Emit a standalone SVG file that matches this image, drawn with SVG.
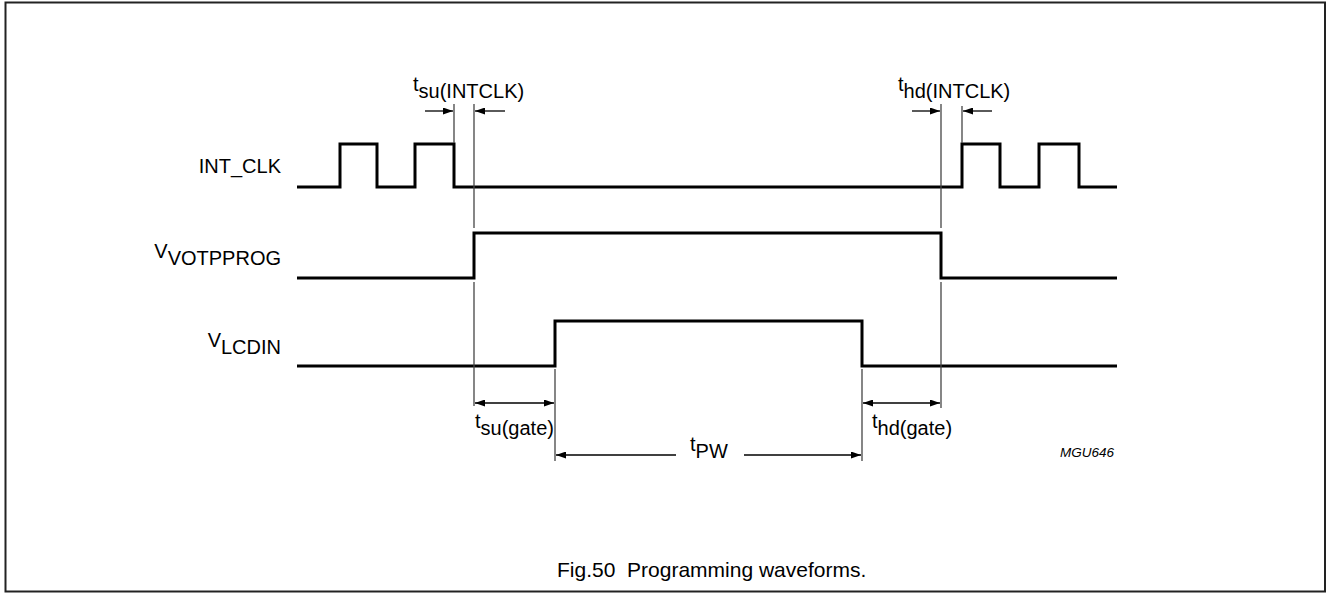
<svg xmlns="http://www.w3.org/2000/svg" width="1327" height="593" viewBox="0 0 1327 593">
<defs>
<marker id="ah" viewBox="0 0 10 7" refX="10" refY="3.5" markerWidth="10" markerHeight="7" markerUnits="userSpaceOnUse" orient="auto-start-reverse">
<path d="M0,0 L10,3.5 L0,7 z" fill="#000"/>
</marker>
<style>
.wave{fill:none;stroke:#000;stroke-width:3;stroke-linejoin:miter;stroke-linecap:butt}
.thin{fill:none;stroke:#444;stroke-width:1.3}
.dim{fill:none;stroke:#000;stroke-width:1.3}
.lbl{font-family:"Liberation Sans",Arial,sans-serif;font-size:20px;fill:#000}
.cap{font-family:"Liberation Sans",Arial,sans-serif;font-size:21px;fill:#000;white-space:pre}
.id{font-family:"Liberation Sans",Arial,sans-serif;font-size:13.5px;font-style:italic;fill:#000}
</style>
</defs>
<rect x="5.5" y="2.5" width="1319.5" height="589" fill="#fff" stroke="#222" stroke-width="2"/>

<g id="int_clk">
<text class="lbl" x="281" y="173" text-anchor="end">INT_CLK</text>
<polyline class="wave" points="297,187 340,187 340,144 377,144 377,187 415,187 415,144 454,144 454,187 962,187 962,144 1000,144 1000,187 1039,187 1039,144 1079,144 1079,187 1117,187"/>
</g>

<g id="v_votpprog">
<text class="lbl" x="281" y="258" text-anchor="end">V<tspan dy="7">VOTPPROG</tspan></text>
<polyline class="wave" points="297,278 474,278 474,233 941,233 941,278 1117,278"/>
</g>

<g id="v_lcdin">
<text class="lbl" x="281" y="347" text-anchor="end">V<tspan dy="7">LCDIN</tspan></text>
<polyline class="wave" points="297,366 555,366 555,321 862,321 862,366 1117,366"/>
</g>

<g id="connectors">
<line class="thin" x1="454" y1="104" x2="454" y2="143"/>
<line class="thin" x1="474" y1="104" x2="474" y2="228"/>
<line class="thin" x1="474" y1="282" x2="474" y2="406"/>
<line class="thin" x1="941" y1="104" x2="941" y2="228"/>
<line class="thin" x1="941" y1="282" x2="941" y2="408"/>
<line class="thin" x1="962" y1="106" x2="962" y2="143"/>
<line class="thin" x1="555" y1="369" x2="555" y2="461"/>
<line class="thin" x1="862" y1="369" x2="862" y2="461"/>

<line class="dim" x1="425" y1="111" x2="453" y2="111" marker-end="url(#ah)"/>
<line class="dim" x1="505" y1="111" x2="475" y2="111" marker-end="url(#ah)"/>
<line class="dim" x1="912" y1="111" x2="940" y2="111" marker-end="url(#ah)"/>
<line class="dim" x1="992" y1="111" x2="963" y2="111" marker-end="url(#ah)"/>
<line class="dim" x1="475" y1="403" x2="554" y2="403" marker-start="url(#ah)" marker-end="url(#ah)"/>
<line class="dim" x1="863" y1="403" x2="940" y2="403" marker-start="url(#ah)" marker-end="url(#ah)"/>
<line class="dim" x1="556" y1="455" x2="676" y2="455" marker-start="url(#ah)"/>
<line class="dim" x1="744" y1="455" x2="861" y2="455" marker-end="url(#ah)"/>
</g>

<g id="labels">
<text class="lbl" x="413" y="91">t<tspan dy="7">su(INTCLK)</tspan></text>
<text class="lbl" x="898" y="91">t<tspan dy="7">hd(INTCLK)</tspan></text>
<text class="lbl" x="475" y="428">t<tspan dy="7">su(gate)</tspan></text>
<text class="lbl" x="872" y="428">t<tspan dy="7">hd(gate)</tspan></text>
<text class="lbl" x="690" y="451">t<tspan dy="7">PW</tspan></text>
<text class="id" x="1060" y="457">MGU646</text>
</g>

<text class="cap" x="557" y="577" xml:space="preserve">Fig.50  Programming waveforms.</text>
</svg>
